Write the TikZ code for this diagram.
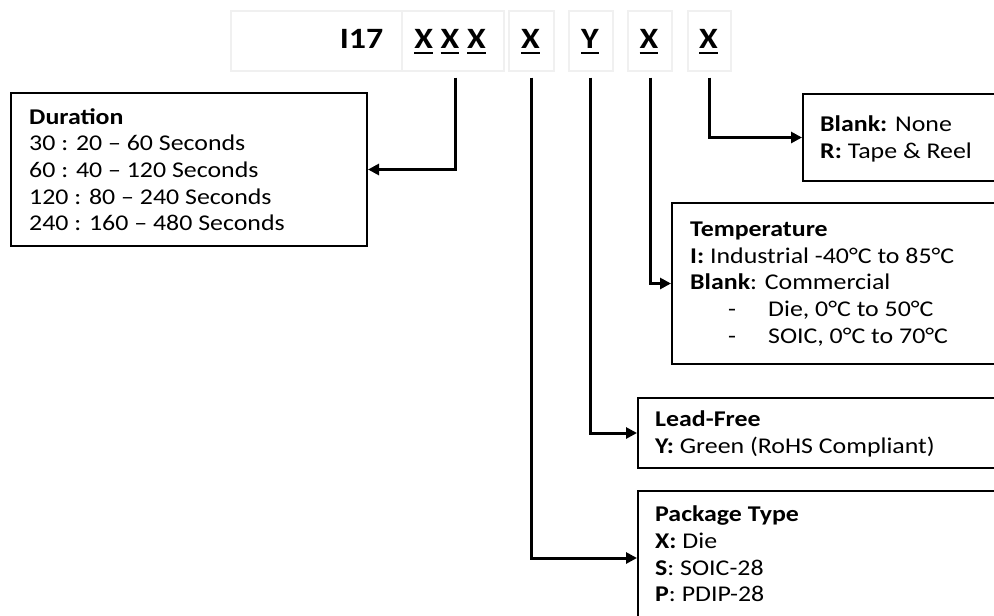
\documentclass[tikz,border=0pt]{standalone}
\usepackage{fontspec}
\setmainfont{Carlito}[FakeStretch=1.15]
\usetikzlibrary{arrows.meta,calc}
\newcommand{\ulbox}[1]{\setbox0=\hbox{#1}\leavevmode\rlap{\rule[-6pt]{\wd0}{2pt}}\box0\relax}
\begin{document}
\begin{tikzpicture}[x=1pt,y=-1pt,
  box/.style={draw, line width=2pt, anchor=north west, inner sep=0},
  txt/.style={anchor=base west, inner sep=0, font=\fontsize{22.5}{26.7}\selectfont},
  htxt/.style={anchor=base, inner sep=0, font=\fontsize{29.5}{32}\selectfont\bfseries},
  conn/.style={line width=3pt, -{Triangle[length=11pt,width=11pt]}},
  hdr/.style={draw=black!6, line width=1.5pt, anchor=north west, minimum height=60pt, inner sep=0}]
\useasboundingbox (0,0) rectangle (994,616);
\clip (0,0) rectangle (994,616);
% header
\node[hdr, minimum width=171pt] (h0) at (230,10) {};
\node[hdr, minimum width=102pt] (h1) at (401,10) {};
\node[hdr, minimum width=45pt] (h2) at (508,10) {};
\node[hdr, minimum width=44pt] (h3) at (568,10) {};
\node[hdr, minimum width=44pt] (h4) at (627,10) {};
\node[hdr, minimum width=43pt] (h5) at (687,10) {};
\node[htxt] (i17) at (361.5,48) {I17};
\node[htxt] (xxx) at (450,48) {\ulbox{X} \ulbox{X} \ulbox{X}};
\node[htxt] (x2) at (530.5,48) {\ulbox{X}};
\node[htxt] (y3) at (590,48) {\ulbox{Y}};
\node[htxt] (x4) at (649,48) {\ulbox{X}};
\node[htxt] (x5) at (708.5,48) {\ulbox{X}};
% boxes
\node[box, minimum width=356pt, minimum height=153pt] (dur) at (10,92) {};
\node[box, minimum width=220pt, minimum height=87pt] (tape) at (802,93) {};
\node[box, minimum width=350pt, minimum height=161pt] (temp) at (671,202) {};
\node[box, minimum width=380pt, minimum height=70pt] (lead) at (637,397) {};
\node[box, minimum width=380pt, minimum height=134pt] (pkg) at (637,490) {};
% texts
\node[txt] (durt) at ($(dur.north west)+(19,32)$) {\vtop{%
  \hbox{\textbf{Duration}}
  \hbox{30 : 20 -- 60 Seconds}
  \hbox{60 : 40 -- 120 Seconds}
  \hbox{120 : 80 -- 240 Seconds}
  \hbox{240 : 160 -- 480 Seconds}}};
\node[txt] (tapet) at ($(tape.north west)+(18,38.5)$) {\vtop{%
  \hbox{\textbf{Blank:} None}
  \hbox{\textbf{R:} Tape \& Reel}}};
\node[txt] (tempt) at ($(temp.north west)+(19,34.5)$) {\vtop{%
  \hbox{\textbf{Temperature}}
  \hbox{\textbf{I:} Industrial -40°C to 85°C}
  \hbox{\textbf{Blank}: Commercial}
  \hbox{\makebox[78pt][l]{\hspace*{38pt}-}Die, 0°C to 50°C}
  \hbox{\makebox[78pt][l]{\hspace*{38pt}-}SOIC, 0°C to 70°C}}};
\node[txt] (leadt) at ($(lead.north west)+(18,29.7)$) {\vtop{%
  \hbox{\textbf{Lead-Free}}
  \hbox{\textbf{Y:} Green (RoHS Compliant)}}};
\node[txt] (pkgt) at ($(pkg.north west)+(18,31.7)$) {\vtop{%
  \hbox{\textbf{Package Type}}
  \hbox{\textbf{X:} Die}
  \hbox{\textbf{S}: SOIC-28}
  \hbox{\textbf{P}: PDIP-28}}};
% connectors
\draw[conn] ($(h1.south)+(3,6)$) |- (dur.east);
\draw[conn] ($(h2.south)+(0,6)$) |- (pkg.west);
\draw[conn] ($(h3.south)+(0,6)$) |- (lead.west);
\draw[conn] ($(h4.south)+(1,6)$) |- (temp.west);
\draw[conn] ($(h5.south)+(0.5,6)$) |- (tape.west);
\end{tikzpicture}
\end{document}
